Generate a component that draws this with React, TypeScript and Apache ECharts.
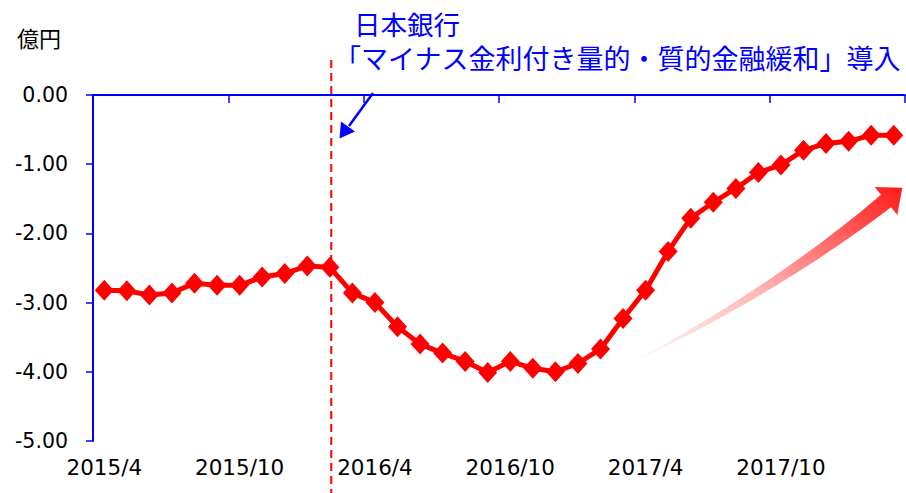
import React, { useEffect, useRef } from "react";
import * as echarts from "echarts";

const categories = [
  "2015/4", "2015/5", "2015/6", "2015/7", "2015/8", "2015/9", "2015/10", "2015/11", "2015/12",
  "2016/1", "2016/2", "2016/3", "2016/4", "2016/5", "2016/6", "2016/7", "2016/8", "2016/9",
  "2016/10", "2016/11", "2016/12", "2017/1", "2017/2", "2017/3", "2017/4", "2017/5", "2017/6",
  "2017/7", "2017/8", "2017/9", "2017/10", "2017/11", "2017/12", "2018/1", "2018/2", "2018/3",
];

const values = [
  -2.82, -2.83, -2.89, -2.86, -2.72, -2.75, -2.75, -2.63, -2.58,
  -2.47, -2.49, -2.86, -3.0, -3.35, -3.6, -3.73, -3.85, -4.01,
  -3.85, -3.95, -4.0, -3.88, -3.67, -3.23, -2.82, -2.26, -1.78,
  -1.55, -1.35, -1.12, -1.01, -0.8, -0.7, -0.67, -0.58, -0.58,
];

const unitLabel = "億円";
const noteLine1 = "日本銀行";
const noteLine2 = "「マイナス金利付き量的・質的金融緩和」導入";
const eventCategory = "2016/2";

// decorative curved gradient arrow
function buildCurvedArrow(): number[][] {
  const p0 = [633, 362];
  const c = [777, 289];
  const p2 = [886, 201];
  const n = 40;
  const upper: number[][] = [];
  const lower: number[][] = [];
  for (let i = 0; i <= n; i++) {
    const t = i / n;
    const a = (1 - t) * (1 - t);
    const b = 2 * (1 - t) * t;
    const d = t * t;
    const x = a * p0[0] + b * c[0] + d * p2[0];
    const y = a * p0[1] + b * c[1] + d * p2[1];
    let tx = 2 * (1 - t) * (c[0] - p0[0]) + 2 * t * (p2[0] - c[0]);
    let ty = 2 * (1 - t) * (c[1] - p0[1]) + 2 * t * (p2[1] - c[1]);
    const len = Math.sqrt(tx * tx + ty * ty);
    tx /= len;
    ty /= len;
    const nx = -ty;
    const ny = tx;
    const hw = 0.5 + 7.5 * t;
    upper.push([x + nx * hw, y + ny * hw]);
    lower.push([x - nx * hw, y - ny * hw]);
  }
  const tx = 0.777, ty = -0.629;
  const nx = -ty, ny = tx;
  const hw = 18;
  const end = p2;
  const head = [
    [end[0] + nx * hw, end[1] + ny * hw],
    [end[0] + tx * 21, end[1] + ty * 21],
    [end[0] - nx * hw, end[1] - ny * hw],
  ];
  return [...upper, head[0], head[1], head[2], ...lower.reverse()];
}

export default function App() {
  const ref = useRef<HTMLDivElement>(null);
  useEffect(() => {
    if (!ref.current) return;
    const chart = echarts.init(ref.current, undefined, { renderer: "svg" });
    const eventIdx = categories.indexOf(eventCategory);
    chart.setOption({
      animation: false,
      backgroundColor: "#ffffff",
      grid: { left: 93, right: 1, top: 95, bottom: 52, containLabel: false },
      xAxis: {
        type: "category",
        data: categories,
        boundaryGap: true,
        axisLine: { show: true, lineStyle: { color: "#0000ff", width: 2 } },
        axisTick: { show: true, interval: 5, length: 8, lineStyle: { color: "#0000ff", width: 1.5 } },
        axisLabel: {
          interval: 5,
          color: "#000000",
          fontFamily: "DejaVu Sans",
          fontSize: 21.5,
          margin: 15,
        },
        splitLine: { show: false },
      },
      yAxis: {
        type: "value",
        min: -5,
        max: 0,
        interval: 1,
        axisLine: { show: true, lineStyle: { color: "#0000ff", width: 2 } },
        axisTick: { show: true, length: 7, lineStyle: { color: "#0000ff", width: 1.5 } },
        axisLabel: {
          color: "#000000",
          fontFamily: "DejaVu Sans",
          fontSize: 20.5,
          margin: 25,
          formatter: (v: number) => v.toFixed(2),
        },
        splitLine: { show: false },
      },
      series: [
        {
          type: "line",
          data: values,
          symbol: "diamond",
          symbolSize: [19, 21],
          showSymbol: true,
          showAllSymbol: true,
          itemStyle: { color: "#ff0000" },
          lineStyle: { color: "#ff0000", width: 5 },
          z: 3,
        },
      ],
      graphic: [
        {
          type: "text",
          x: 17,
          y: 37,
          style: {
            text: unitLabel,
            fill: "#000000",
            font: '22px "Noto Sans CJK JP"',
            lineHeight: 22,
            verticalAlign: "middle",
          },
        },
        {
          type: "text",
          x: 334,
          y: 6,
          style: {
            text: "{a|" + noteLine1 + "}\n{b|" + noteLine2 + "}",
            fill: "#0000ff",
            verticalAlign: "top",
            align: "left",
            rich: {
              a: {
                fill: "#0000ff",
                fontFamily: "Noto Sans CJK JP",
                fontSize: 26.5,
                lineHeight: 34,
                padding: [0, 0, 0, 20],
              },
              b: {
                fill: "#0000ff",
                fontFamily: "Noto Sans CJK JP",
                fontSize: 27,
                lineHeight: 34,
              },
            },
          },
        },
        {
          type: "line",
          z: 1,
          shape: { x1: 95 + (eventIdx + 0.5) * 22.5, y1: 60, x2: 95 + (eventIdx + 0.5) * 22.5, y2: 493 },
          style: { stroke: "#ff0000", lineWidth: 2, lineDash: [8, 5] },
        },
        {
          type: "line",
          shape: { x1: 373, y1: 93, x2: 349, y2: 126 },
          style: { stroke: "#0000ff", lineWidth: 2.5 },
        },
        {
          type: "polygon",
          shape: { points: [[339.5, 138.5], [341, 121.5], [355, 131.5]] },
          style: { fill: "#0000ff" },
        },
        {
          type: "polygon",
          z: 2,
          shape: { points: buildCurvedArrow() },
          style: {
            fill: {
              type: "linear",
              x: 0,
              y: 1,
              x2: 1,
              y2: 0,
              colorStops: [
                { offset: 0, color: "rgba(255,0,0,0)" },
                { offset: 0.45, color: "rgba(255,0,0,0.3)" },
                { offset: 1, color: "rgba(255,0,0,0.9)" },
              ],
            },
          },
        },
      ],
    });
    return () => chart.dispose();
  }, []);
  return (
    <div
      ref={ref}
      style={{ position: "fixed", left: 0, top: 0, width: 906, height: 493, background: "#fff" }}
    />
  );
}
